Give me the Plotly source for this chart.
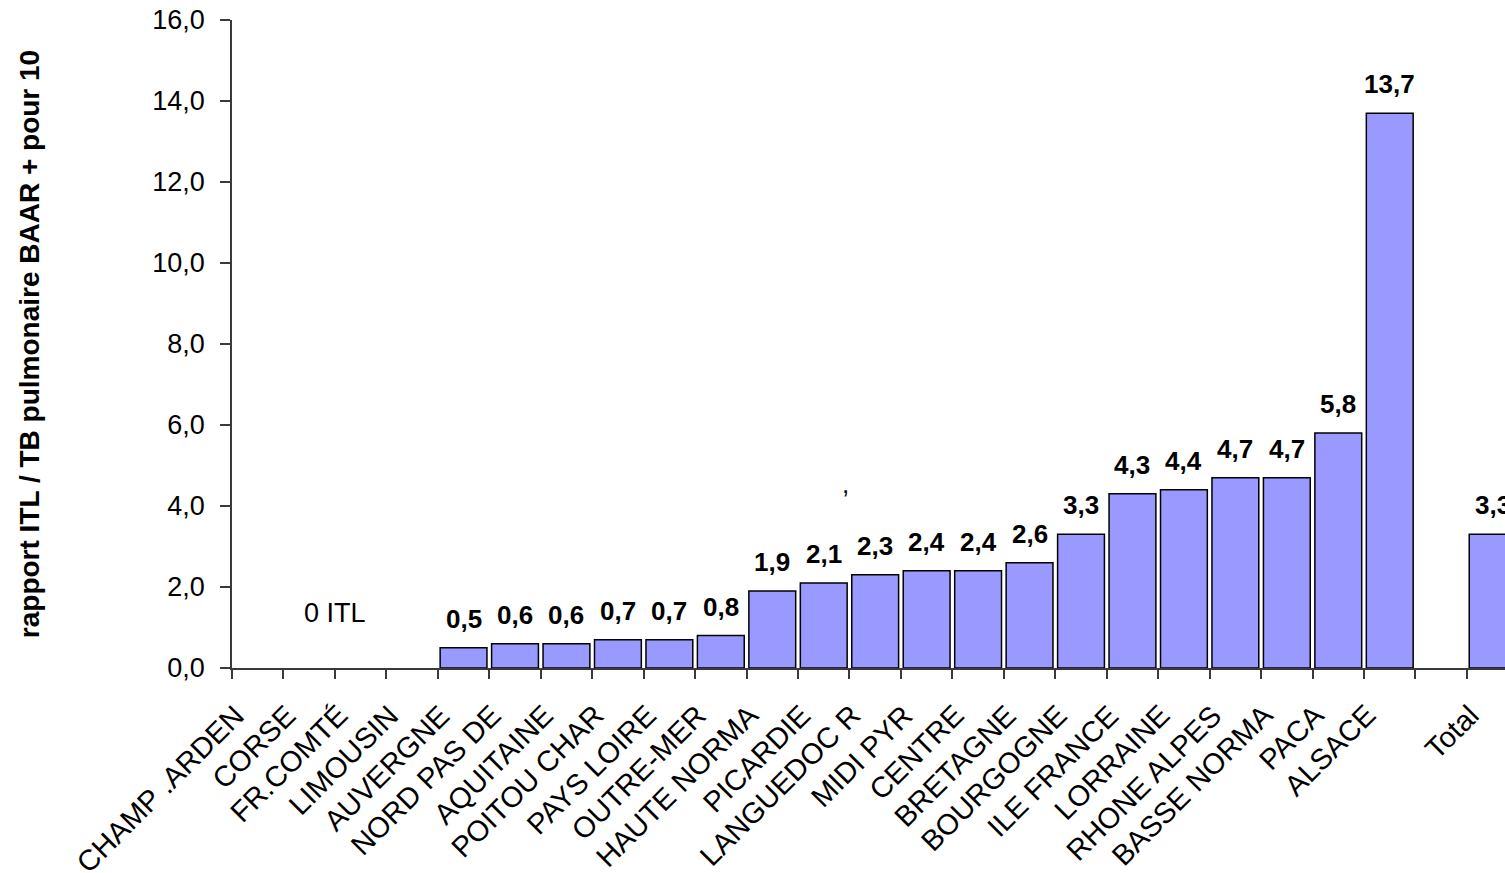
import plotly.graph_objects as go

# Regions ordered by ratio, then an empty slot and the overall total
regions = [
    "CHAMP .ARDEN", "CORSE", "FR.COMTÉ", "LIMOUSIN", "AUVERGNE", "NORD PAS DE",
    "AQUITAINE", "POITOU CHAR", "PAYS LOIRE", "OUTRE-MER", "HAUTE NORMA",
    "PICARDIE", "LANGUEDOC R", "MIDI PYR", "CENTRE", "BRETAGNE", "BOURGOGNE",
    "ILE FRANCE", "LORRAINE", "RHONE ALPES", "BASSE NORMA", "PACA", "ALSACE",
    " ", "Total",
]
ratios = [
    0.0, 0.0, 0.0, 0.0, 0.5, 0.6,
    0.6, 0.7, 0.7, 0.8, 1.9,
    2.1, 2.3, 2.4, 2.4, 2.6, 3.3,
    4.3, 4.4, 4.7, 4.7, 5.8, 13.7,
    None, 3.3,
]
y_ticks = [0, 2, 4, 6, 8, 10, 12, 14, 16]

FONT = "Liberation Sans, Arial, sans-serif"
AXIS_COLOR = "#3a3a3a"

# Zero-height bars get no outline so they stay invisible
outline_widths = [0 if (v is None or v == 0) else 1.5 for v in ratios]

fig = go.Figure()
fig.add_trace(go.Bar(
    x=regions,
    y=ratios,
    marker=dict(color="#9999FF", line=dict(color="#000000", width=outline_widths)),
    hoverinfo="x+y",
))

annotations = []

# Value labels above the non-zero bars
for name, v in zip(regions, ratios):
    if v is None or v == 0:
        continue
    annotations.append(dict(
        x=name, y=v, xref="x", yref="y",
        text="<b>" + f"{v:.1f}".replace(".", ",") + "</b>",
        showarrow=False, yanchor="bottom", yshift=12,
        font=dict(family=FONT, size=26, color="#000000"),
    ))

# Slanted category labels under the axis
for name in regions:
    if not name.strip():
        continue
    annotations.append(dict(
        x=name, y=0, xref="x", yref="paper",
        text=name, textangle=-45, showarrow=False,
        xanchor="right", yanchor="top", xshift=-5, yshift=-28,
        font=dict(family=FONT, size=29, color="#000000"),
    ))

# Note for the regions without any ITL
annotations.append(dict(
    x=1.5, y=1.35, xref="x", yref="y", text="0 ITL", showarrow=False,
    font=dict(family=FONT, size=27, color="#000000"),
))
annotations.append(dict(
    x=11.43, y=4.55, xref="x", yref="y", text=",", showarrow=False,
    font=dict(family=FONT, size=26, color="#000000"),
))

fig.update_layout(
    width=1505, height=873,
    margin=dict(l=232, r=0, t=20, b=205),
    paper_bgcolor="white", plot_bgcolor="white",
    separators=", ",
    bargap=0.09,
    showlegend=False,
    annotations=annotations,
    font=dict(family=FONT, color="#000000"),
)
fig.update_xaxes(
    type="category",
    categoryorder="array", categoryarray=regions,
    range=[-0.5, 24.24],
    showline=True, linecolor=AXIS_COLOR, linewidth=1.5,
    ticks="outside", tickson="boundaries", ticklen=9, tickcolor=AXIS_COLOR, tickwidth=1.5,
    showticklabels=False,
    showgrid=False, zeroline=False,
)
fig.update_yaxes(
    range=[0, 16],
    tickvals=y_ticks, tickformat=".1f",
    showline=True, linecolor=AXIS_COLOR, linewidth=1.5,
    ticks="outside", ticklen=10, tickcolor=AXIS_COLOR, tickwidth=1.5,
    ticklabelstandoff=10,
    tickfont=dict(family=FONT, size=27, color="#000000"),
    showgrid=False, zeroline=False,
    title=dict(
        text="<b>rapport ITL / TB pulmonaire BAAR + pour 10</b>",
        font=dict(family=FONT, size=28, color="#000000"),
        standoff=104,
    ),
)

fig.write_html("out.html")
